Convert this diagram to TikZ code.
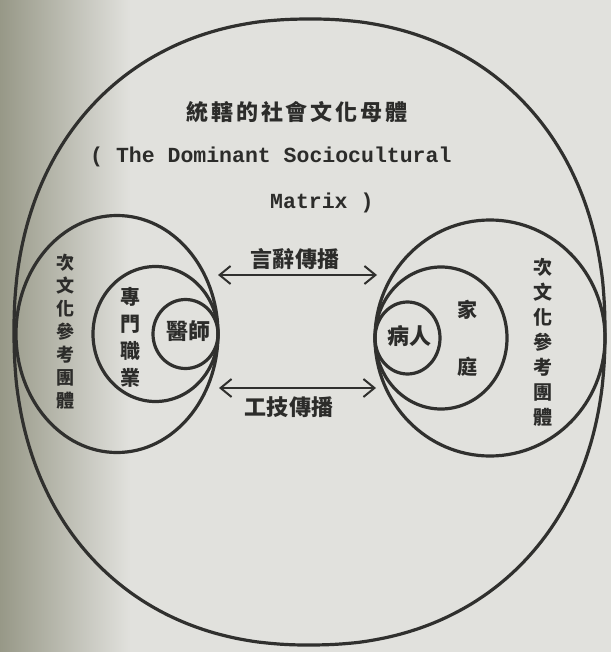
\documentclass[tikz,border=0pt]{standalone}
\usepackage{fontspec}
\usetikzlibrary{arrows.meta,shapes.geometric}
\newfontfamily\cjk{Noto Sans CJK TC}
\newfontfamily\eng{Liberation Mono}
\definecolor{ink}{HTML}{30302E}
\definecolor{txt}{HTML}{2C2C2A}
\definecolor{paper}{HTML}{E1E1DD}
\definecolor{paperdark}{HTML}{979887}
\begin{document}
\begin{tikzpicture}[x=1pt,y=-1pt,
  ring/.style={ellipse, draw=ink, line width=3.2pt, inner sep=0pt, outer sep=0pt},
  lbl/.style={text=txt, inner sep=0pt, align=center},
  zh/.style={lbl, font=\cjk\bfseries\fontsize{#1}{#1}\selectfont},
  flow/.style={draw=ink, line width=2pt, {Straight Barb[length=11pt,width=18pt,line width=2pt]}-{Straight Barb[length=11pt,width=18pt,line width=2pt]}}]
% paper background
\fill[paper] (0,0) rectangle (611,652);
\shade[left color=paperdark, right color=paper] (0,0) rectangle (130,652);
\useasboundingbox (0,0) rectangle (611,652);

% outer matrix (slightly squarish oval)
\coordinate (matrix) at (309.5,332);
\draw[ink, line width=3.2pt] plot[domain=0.5:360.5, samples=181, smooth]
  ({309.5+295.5*sign(cos(\x))*abs(cos(\x))^(0.91)}, {332+313*sign(sin(\x))*abs(sin(\x))^(0.91)}) -- cycle;
% left side circles (tangent at right)
\node[ring, minimum width=202pt, minimum height=237pt] (subL) at (117,334) {};
\node[ring, minimum width=125pt, minimum height=135pt] (prof) at (155.5,334) {};
\node[ring, minimum width=65pt, minimum height=69pt] (doc) at (185.5,334) {};
% right side circles (tangent at left)
\node[ring, minimum width=230pt, minimum height=236pt] (subR) at (490,338) {};
\node[ring, minimum width=132pt, minimum height=142pt] (fam) at (441,338) {};
\node[ring, minimum width=65pt, minimum height=72pt] (pat) at (407.5,338) {};

% texts
\node[lbl, font=\cjk\bfseries\fontsize{22}{22}\selectfont\addfontfeatures{LetterSpace=13}] (title) at (297,112) {統轄的社會文化母體};
\node[lbl, anchor=west, font=\eng\bfseries\fontsize{21.5}{22}\selectfont] (en1) at (90,157) {( The Dominant Sociocultural};
\node[lbl, anchor=west, font=\eng\bfseries\fontsize{21.5}{22}\selectfont] (en2) at (270,203) {Matrix )};

\node[lbl, font=\cjk\bfseries\fontsize{18}{23}\selectfont] (tL) at (65,332) {次\\文\\化\\參\\考\\團\\體};
\node[lbl, font=\cjk\bfseries\fontsize{19}{25}\selectfont] (tR) at (543,342) {次\\文\\化\\參\\考\\團\\體};
\node[lbl, font=\cjk\bfseries\fontsize{20}{27}\selectfont] (tProf) at (130,337) {專\\門\\職\\業};
\node[lbl, font=\cjk\bfseries\fontsize{20}{57}\selectfont] (tFam) at (467,338.5) {家\\庭};
\node[zh=22] (tDoc) at (188,331) {醫師};
\node[zh=22] (tPat) at (409,336) {病人};

\node[lbl, font=\cjk\bfseries\fontsize{22}{22}\selectfont\addfontfeatures{LetterSpace=3}] (tVerb) at (295,259) {言辭傳播};
\node[lbl, font=\cjk\bfseries\fontsize{22}{22}\selectfont\addfontfeatures{LetterSpace=3}] (tTech) at (289,407) {工技傳播};

% connectors
\coordinate (v1) at (218,275);
\coordinate (v2) at (377,275);
\coordinate (w1) at (219,388);
\coordinate (w2) at (376,388);
\draw[flow] (v1) -- (v2);
\draw[flow] (w1) -- (w2);
\end{tikzpicture}
\end{document}
